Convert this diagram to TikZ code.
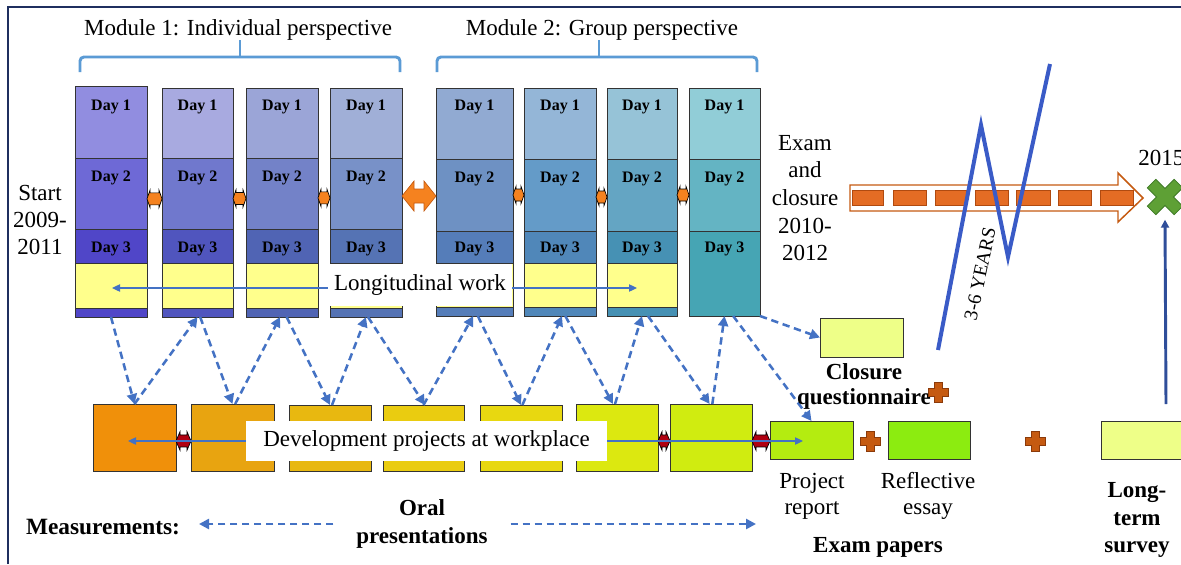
\documentclass[tikz,border=0pt]{standalone}
\usepackage{fontspec}
\setmainfont{Liberation Serif}
\usetikzlibrary{arrows.meta,calc}
\definecolor{c1a}{HTML}{918DE0}\definecolor{c1b}{HTML}{6E69D6}\definecolor{c1c}{HTML}{5046C8}
\definecolor{c2a}{HTML}{A8AAE0}\definecolor{c2b}{HTML}{7078CD}\definecolor{c2c}{HTML}{5055BE}
\definecolor{c3a}{HTML}{9BA5D7}\definecolor{c3b}{HTML}{7382C8}\definecolor{c3c}{HTML}{5064B4}
\definecolor{c4a}{HTML}{A0AFD7}\definecolor{c4b}{HTML}{7891C8}\definecolor{c4c}{HTML}{5573B4}
\definecolor{c5a}{HTML}{91AAD2}\definecolor{c5b}{HTML}{6E91C3}\definecolor{c5c}{HTML}{557DB9}
\definecolor{c6a}{HTML}{94B6D7}\definecolor{c6b}{HTML}{649BC8}\definecolor{c6c}{HTML}{5087B9}
\definecolor{c7a}{HTML}{96C3D7}\definecolor{c7b}{HTML}{64A5C3}\definecolor{c7c}{HTML}{4691B4}
\definecolor{c8a}{HTML}{91CDD7}\definecolor{c8b}{HTML}{64B4C3}\definecolor{c8c}{HTML}{46A5B4}
\definecolor{yel}{HTML}{FFFF8C}\definecolor{lyel}{HTML}{EEFF88}
\definecolor{bA}{HTML}{F0900A}\definecolor{bB}{HTML}{E8A410}\definecolor{bC}{HTML}{E8B810}
\definecolor{bD}{HTML}{EACC10}\definecolor{bE}{HTML}{E8D810}\definecolor{bF}{HTML}{DCE810}
\definecolor{bG}{HTML}{D0EC10}\definecolor{prc}{HTML}{B4EC10}\definecolor{rec}{HTML}{8CEC10}
\definecolor{dblue}{HTML}{4472C4}\definecolor{zigc}{HTML}{3A5BC7}\definecolor{vertc}{HTML}{2F4E9A}
\definecolor{brk}{HTML}{5B9BD5}\definecolor{orng}{HTML}{F5821F}\definecolor{plusc}{HTML}{C55A11}
\definecolor{plusd}{HTML}{8B3A0A}\definecolor{gxf}{HTML}{5EA035}\definecolor{gxd}{HTML}{3E7A25}
\definecolor{dred}{HTML}{B00010}\definecolor{framec}{HTML}{1F2F5F}\definecolor{dashf}{HTML}{E46C24}
\definecolor{dashd}{HTML}{B04A10}
\newcommand\cellb[6]{\node[daycell, fill=#6, minimum width={(#4-#2)*0.75pt}, minimum height={(#5-#3)*0.75pt}] (#1) at (#2,#3) {};}
\newcommand\dayt[3]{\node[daylbl] (#1t) at ([yshift=-#3]#1.north) {#2};}
\newcommand\dblarr[6]{%
 \filldraw[#6] let \p1=(#1), \p2=(#2) in
 (\x1,\y1) -- (\x1+#5,\y1+#4) -- (\x1+#5,\y1+#3) -- (\x2-#5,\y1+#3) -- (\x2-#5,\y1+#4) -- (\x2,\y1)
 -- (\x2-#5,\y1-#4) -- (\x2-#5,\y1-#3) -- (\x1+#5,\y1-#3) -- (\x1+#5,\y1-#4) -- cycle;}
\begin{document}
\begin{tikzpicture}[x=0.75pt,y=-0.75pt,
 daycell/.style={draw=black!80, line width=0.6pt, inner sep=0pt, outer sep=0pt, anchor=north west},
 daylbl/.style={font=\bfseries\fontsize{12}{14}\selectfont, inner sep=0pt, anchor=north},
 txt/.style={font=\fontsize{17.25}{20.5}\selectfont, inner sep=0pt, align=center},
 btxt/.style={font=\bfseries\fontsize{17.25}{20.5}\selectfont, inner sep=0pt, align=center},
 dconn/.style={draw=dblue, line width=1.9pt, dash pattern=on 5.5pt off 3.5pt, -{Triangle[length=7.5pt,width=7.5pt]}},
 thinarr/.style={draw=dblue, line width=0.9pt, -{Triangle[length=6pt,width=5.5pt]}},
 modbrk/.style={draw=brk, line width=2.2pt, rounded corners=3pt},
 smallorange/.style={fill=orng, draw=black, line width=0.5pt},
 redconn/.style={fill=dred, draw=black, line width=0.5pt},
 plussign/.pic={\filldraw[fill=plusc, draw=plusd, line width=0.6pt] (-4,-10) -- (4,-10) -- (4,-4) -- (10,-4) -- (10,4) -- (4,4) -- (4,10) -- (-4,10) -- (-4,4) -- (-10,4) -- (-10,-4) -- (-4,-4) -- cycle;},
 greenx/.pic={\filldraw[fill=gxf, draw=gxd, line width=0.6pt, rotate=45] (-6,-19) -- (6,-19) -- (6,-6) -- (19,-6) -- (19,6) -- (6,6) -- (6,19) -- (-6,19) -- (-6,6) -- (-19,6) -- (-19,-6) -- (-6,-6) -- cycle;}
]
\useasboundingbox (0,0) rectangle (1181,564);
\fill[white] (0,0) rectangle (1181,564);
% frame
\draw[framec, line width=1.5pt] (8,564) -- (8,7) -- (1181,7);

% module titles and brackets
\node[txt] (m1) at (238,30) {Module 1: Individual perspective};
\node[txt] (m2) at (602,30) {Module 2: Group perspective};
\draw[modbrk] (80,72) -- (80,57) -- (400,57) -- (400,72);
\draw[modbrk] (240,57) -- (240,40);
\draw[modbrk] (437,72) -- (437,57) -- (757,57) -- (757,72);
\draw[modbrk] (599,57) -- (599,40);

% columns
\cellb{c1d1}{75}{86}{147}{158}{c1a}\cellb{c1d2}{75}{158}{147}{229}{c1b}\cellb{c1d3}{75}{229}{147}{263}{c1c}
\cellb{c1y}{75}{263}{147}{308}{yel}\cellb{c1s}{75}{308}{147}{317}{c1c}
\cellb{c2d1}{162}{88}{233}{158}{c2a}\cellb{c2d2}{162}{158}{233}{229}{c2b}\cellb{c2d3}{162}{229}{233}{263}{c2c}
\cellb{c2y}{162}{263}{233}{308}{yel}\cellb{c2s}{162}{308}{233}{317}{c2c}
\cellb{c3d1}{246}{88}{318}{158}{c3a}\cellb{c3d2}{246}{158}{318}{229}{c3b}\cellb{c3d3}{246}{229}{318}{263}{c3c}
\cellb{c3y}{246}{263}{318}{308}{yel}\cellb{c3s}{246}{308}{318}{317}{c3c}
\cellb{c4d1}{330}{88}{402}{158}{c4a}\cellb{c4d2}{330}{158}{402}{229}{c4b}\cellb{c4d3}{330}{229}{402}{263}{c4c}
\cellb{c4y}{330}{263}{402}{308}{yel}\cellb{c4s}{330}{308}{402}{317}{c4c}
\cellb{c5d1}{436}{88}{513}{159}{c5a}\cellb{c5d2}{436}{159}{513}{231}{c5b}\cellb{c5d3}{436}{231}{513}{263}{c5c}
\cellb{c5y}{436}{263}{513}{307}{yel}\cellb{c5s}{436}{307}{513}{316}{c5c}
\cellb{c6d1}{524}{88}{596}{159}{c6a}\cellb{c6d2}{524}{159}{596}{231}{c6b}\cellb{c6d3}{524}{231}{596}{263}{c6c}
\cellb{c6y}{524}{263}{596}{307}{yel}\cellb{c6s}{524}{307}{596}{316}{c6c}
\cellb{c7d1}{607}{88}{677}{159}{c7a}\cellb{c7d2}{607}{159}{677}{231}{c7b}\cellb{c7d3}{607}{231}{677}{263}{c7c}
\cellb{c7y}{607}{263}{677}{307}{yel}\cellb{c7s}{607}{307}{677}{316}{c7c}
\cellb{c8d1}{689}{88}{760}{159}{c8a}\cellb{c8d2}{689}{159}{760}{231}{c8b}\cellb{c8c}{689}{231}{760}{316}{c8c}

\dayt{c1d1}{Day 1}{10pt}\dayt{c1d2}{Day 2}{9.5pt}\dayt{c1d3}{Day 3}{9.2pt}
\dayt{c2d1}{Day 1}{8.7pt}\dayt{c2d2}{Day 2}{9.8pt}\dayt{c2d3}{Day 3}{9.2pt}
\dayt{c3d1}{Day 1}{8.7pt}\dayt{c3d2}{Day 2}{9.8pt}\dayt{c3d3}{Day 3}{9.2pt}
\dayt{c4d1}{Day 1}{8.7pt}\dayt{c4d2}{Day 2}{9.8pt}\dayt{c4d3}{Day 3}{9.2pt}
\dayt{c5d1}{Day 1}{8.7pt}\dayt{c5d2}{Day 2}{9.2pt}\dayt{c5d3}{Day 3}{7.9pt}
\dayt{c6d1}{Day 1}{8.7pt}\dayt{c6d2}{Day 2}{9.2pt}\dayt{c6d3}{Day 3}{7.9pt}
\dayt{c7d1}{Day 1}{8.7pt}\dayt{c7d2}{Day 2}{9.2pt}\dayt{c7d3}{Day 3}{7.9pt}
\dayt{c8d1}{Day 1}{8.7pt}\dayt{c8d2}{Day 2}{9.2pt}\dayt{c8c}{Day 3}{7.9pt}

% connectors between columns
\dblarr{[yshift=-4pt]c1d2.east}{c2d2.west}{4.5pt}{6.5pt}{2.25pt}{smallorange}
\dblarr{[yshift=-3.7pt]c2d2.east}{c3d2.west}{4.5pt}{6.5pt}{2.25pt}{smallorange}
\dblarr{[yshift=-3.3pt]c3d2.east}{c4d2.west}{4.5pt}{6.5pt}{2.25pt}{smallorange}
\dblarr{[yshift=-1.9pt]c4d2.east}{c5d2.west}{5.25pt}{11.25pt}{9pt}{fill=orng, draw=plusc, line width=0.5pt}
\dblarr{[yshift=0pt]c5d2.east}{c6d2.west}{4.5pt}{6.5pt}{2.25pt}{smallorange}
\dblarr{[yshift=-1.5pt]c6d2.east}{c7d2.west}{4.5pt}{6.5pt}{2.25pt}{smallorange}
\dblarr{[yshift=0pt]c7d2.east}{c8d2.west}{4.5pt}{6.5pt}{2.25pt}{smallorange}

% longitudinal work
\node[txt, fill=white, minimum width={(512-328)*0.75pt}, minimum height={(306-264)*0.75pt}] (lw) at (420,285) {Longitudinal work};
\coordinate (lwL) at (112,288);
\coordinate (lwR) at (637,288);
\draw[thinarr] (lw.west |- lwL) -- (lwL);
\draw[thinarr] (lw.east |- lwR) -- (lwR);

% start / exam texts
\node[txt] (start) at (40,220) {Start\\2009-\\2011};
\node[txt, font=\fontsize{17.25}{20.7}\selectfont] (exam) at (805,198) {Exam\\and\\closure\\2010-\\2012};

% bottom boxes
\cellb{b1}{93}{404}{176}{471}{bA}
\cellb{b2}{191}{404}{274}{471}{bB}
\cellb{b3}{289}{405}{371}{471}{bC}
\cellb{b4}{383}{405}{464}{471}{bD}
\cellb{b5}{480}{405}{562}{471}{bE}
\cellb{b6}{576}{404}{658}{471}{bF}
\cellb{b7}{670}{404}{752}{471}{bG}
\cellb{pr}{770}{421}{853}{459}{prc}
\cellb{re}{888}{421}{970}{459}{rec}
\cellb{lt}{1101}{421}{1231}{459}{lyel}
\cellb{cq}{820}{318}{903}{357}{lyel}

\dblarr{[yshift=-2.6pt]b1.east}{b2.west}{4.5pt}{7pt}{3pt}{redconn}
\dblarr{[yshift=-2.6pt]b6.east}{b7.west}{4.5pt}{7pt}{3pt}{redconn}
\dblarr{[yshift=-2.6pt]b7.east}{pr.west}{4.5pt}{7pt}{3pt}{redconn}

\node[txt, fill=white, minimum width={(607-246)*0.75pt}, minimum height={(461-421)*0.75pt}] (dp) at (426.5,441) {Development projects at workplace};
\coordinate (dpL) at (128,441);
\coordinate (dpR) at (803,441);
\draw[thinarr] (dp.west) -- (dpL);
\draw[thinarr] (dp.east) -- (dpR);

% dashed connectors
\draw[dconn] (c1s.south) -- (b1.north);
\draw[dconn] (b1.north) -- (c2s.south);
\draw[dconn] ([xshift=2pt]c2s.south) -- (b2.north);
\draw[dconn] ([xshift=2pt]b2.north) -- ([xshift=-1.5pt]c3s.south);
\draw[dconn] ([xshift=3.5pt]c3s.south) -- (b3.north);
\draw[dconn] ([xshift=1.5pt]b3.north) -- (c4s.south);
\draw[dconn] ([xshift=1.5pt]c4s.south) -- ([xshift=1pt]b4.north);
\draw[dconn] (b4.north) -- ([xshift=-1pt]c5s.south);
\draw[dconn] ([xshift=2.5pt]c5s.south) -- (b5.north);
\draw[dconn] ([xshift=1pt]b5.north) -- ([xshift=1.5pt]c6s.south);
\draw[dconn] ([xshift=4pt]c6s.south) -- ([xshift=-3pt]b6.north);
\draw[dconn] ([xshift=-1.5pt]b6.north) -- (c7s.south);
\draw[dconn] ([xshift=4.5pt]c7s.south) -- ([xshift=-1pt]b7.north);
\draw[dconn] ([xshift=1pt]b7.north) -- (c8c.south);
\draw[dconn] ([xshift=6.5pt]c8c.south) -- (pr.north);
\draw[dconn] (c8c.south east) -- (cq.west);

% texts lower right
\node[btxt, font=\bfseries\fontsize{17.25}{18.75}\selectfont] (cqt) at (864,386) {Closure\\questionnaire};
\node[txt, font=\fontsize{17.25}{19.5}\selectfont] (prt) at (812,496) {Project\\report};
\node[txt, font=\fontsize{17.25}{19.5}\selectfont] (ret) at (928,496) {Reflective\\essay};
\node[btxt] (ep) at (878,547) {Exam papers};
\node[btxt] (lts) at (1137,520) {Long-\\term\\survey};

\pic (p1) at (938,392) {plussign};
\pic (p2) at (870,441) {plussign};
\pic (p3) at (1035,441) {plussign};

% measurements
\node[btxt, font=\bfseries\fontsize{17.5}{21}\selectfont] (meas) at (103,527) {Measurements:};
\node[btxt, font=\bfseries\fontsize{17.25}{21}\selectfont, inner xsep=17pt] (op) at (422,524) {Oral\\presentations};
\coordinate (mL) at (199,524);
\coordinate (mR) at (756,524);
\draw[dconn] (op.west) -- (mL);
\draw[dconn] (op.east) -- (mR);

% block arrow to 2015
\filldraw[draw=plusc, fill=white, line width=1.1pt] (850,185) -- (1118,185) -- (1118,173) -- (1143,198) -- (1118,222) -- (1118,211) -- (850,211) -- cycle;
\foreach \a/\b in {852/883,893/926,935/966,975/1008,1016/1050,1058/1091,1100/1133}
  \filldraw[fill=dashf, draw=dashd, line width=0.5pt] (\a,190) rectangle (\b,205);

% zigzag
\draw[zigc, line width=3pt, line join=miter] (938,350) -- (981,125) -- (1008,257) -- (1050,64);
\node[txt, font=\fontsize{14.5}{16}\selectfont, rotate=78] (yrs) at (980,274) {3-6 YEARS};

% 2015
\coordinate (gxc) at (1165,197);
\pic (gx) at (gxc) {greenx};
\node[txt, anchor=west] (y2015) at (1138,158) {2015};
\draw[vertc, line width=2.2pt, -{Triangle[length=6pt,width=6pt]}] ([yshift=12.75pt]lt.north) -- ([yshift=-17pt]gxc);
\end{tikzpicture}
\end{document}
